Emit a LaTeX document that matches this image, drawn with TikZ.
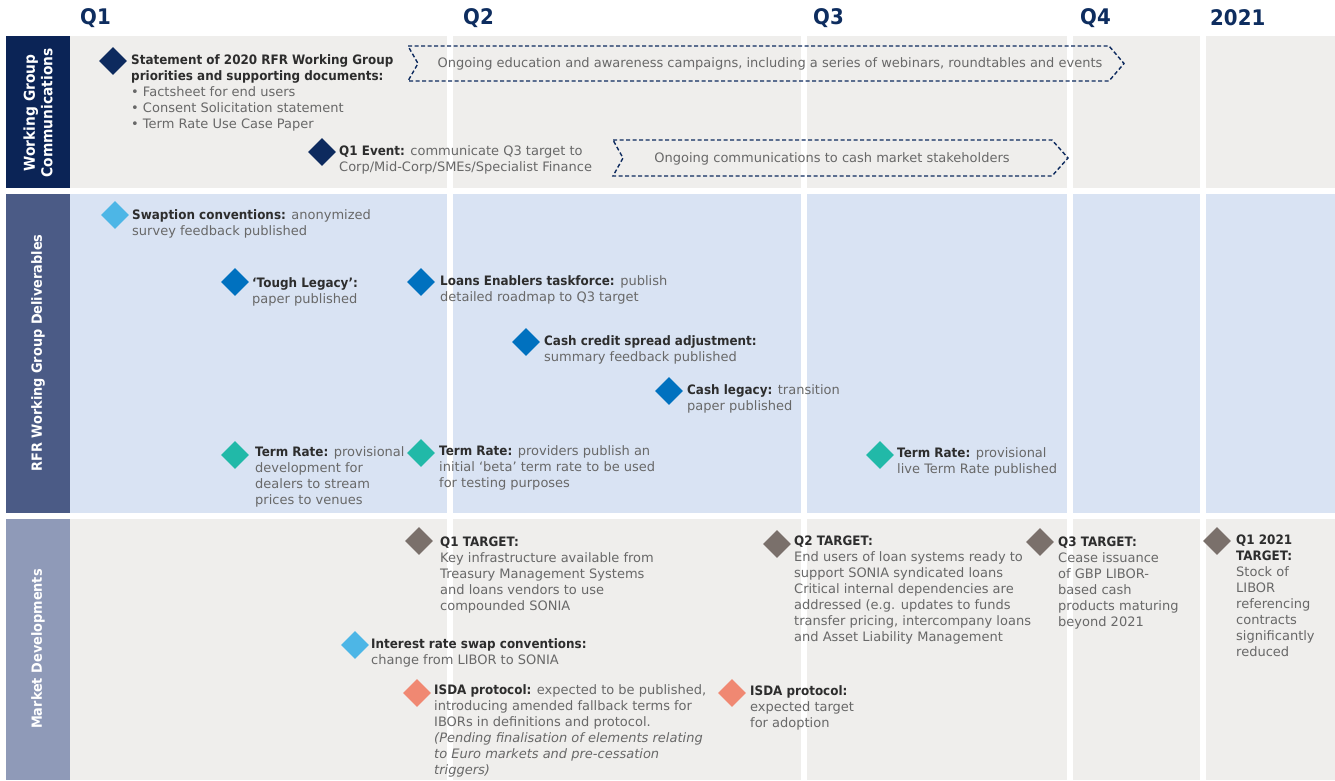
\documentclass[tikz,border=0pt]{standalone}
\usepackage{fontspec}
\setmainfont{DejaVu Sans}[BoldFeatures={FakeStretch=0.92}]
\usetikzlibrary{shapes.geometric}
\definecolor{hdnavy}{HTML}{0E2D5F}
\definecolor{labA}{HTML}{0B2456}
\definecolor{labB}{HTML}{4B5B86}
\definecolor{labC}{HTML}{8F9AB8}
\definecolor{bggrey}{HTML}{EFEEEC}
\definecolor{bgblue}{HTML}{D9E3F3}
\definecolor{dnavy}{HTML}{0D2A5E}
\definecolor{dlight}{HTML}{4DB6E6}
\definecolor{dmid}{HTML}{0071BF}
\definecolor{dteal}{HTML}{21B9A8}
\definecolor{dbrown}{HTML}{7A706B}
\definecolor{dsalmon}{HTML}{F08872}
\definecolor{txtgrey}{HTML}{686868}
\definecolor{txtdark}{HTML}{2D2D2D}
\newcommand{\mybf}[1]{{\color{txtdark}\bfseries #1}}
\begin{document}
\begin{tikzpicture}[x=1pt,y=-1pt,
  txt/.style={anchor=north west, inner sep=0pt, align=left, yshift=5pt,
    font=\fontsize{13}{16}\selectfont, text=txtgrey, execute at begin node=\strut},
  dia/.style={diamond, minimum width=28pt, minimum height=28pt, inner sep=0pt, draw=none},
  qhead/.style={anchor=west, inner sep=0pt, text=hdnavy, font=\fontsize{21.5}{24}\selectfont\bfseries},
  rowlab/.style={rotate=90, inner sep=0pt, text=white, align=center, font=\fontsize{14}{17}\selectfont\bfseries},
  ongoing/.style={draw=dnavy, line width=1.4pt, dash pattern=on 4pt off 2.5pt},
  ongtxt/.style={inner sep=0pt, text=txtgrey, font=\fontsize{13}{16}\selectfont}]
\useasboundingbox (0,0) rectangle (1335,780);
\fill[white] (0,0) rectangle (1335,780);
% label columns
\fill[labA] (6,36) rectangle (70,188);
\fill[labB] (6,194) rectangle (70,513);
\fill[labC] (6,519) rectangle (70,780);
% row backgrounds per column
\foreach \xa/\xb in {70/447,453/801,807/1067,1073/1200,1206/1335}{
  \fill[bggrey] (\xa,36) rectangle (\xb,188);
  \fill[bgblue] (\xa,194) rectangle (\xb,513);
  \fill[bggrey] (\xa,519) rectangle (\xb,780);
}
% headers
\node[qhead] (hq1) at (80,18) {Q1};
\node[qhead] (hq2) at (463,18) {Q2};
\node[qhead] (hq3) at (813,18) {Q3};
\node[qhead] (hq4) at (1080,18) {Q4};
\node[qhead] (h21) at (1210,18) {2021};
% row labels
\node[rowlab, font=\fontsize{15}{17.5}\selectfont\bfseries] (lab1) at (38,113) {Working Group\\Communications};
\node[rowlab] (lab2) at (38,353) {RFR Working Group Deliverables};
\node[rowlab] (lab3) at (38,649) {Market Developments};
% ongoing arrows
\draw[ongoing] (408,46) -- (1109,46) -- (1124,63.5) -- (1109,81) -- (408,81) -- (418,63.5) -- cycle;
\node[ongtxt] (ong1) at (770,64) {Ongoing education and awareness campaigns, including a series of webinars, roundtables and events};
\draw[ongoing] (613,140) -- (1052,140) -- (1068,158) -- (1052,176) -- (613,176) -- (623,158) -- cycle;
\node[ongtxt] (ong2) at (832,158.5) {Ongoing communications to cash market stakeholders};
% row 1
\node[dia, fill=dnavy] (d_stmt) at (113,61) {};
\node[txt] (t_stmt) at (131,59) {\mybf{Statement of 2020 RFR Working Group}\\\mybf{priorities and supporting documents:}\\• Factsheet for end users\\• Consent Solicitation statement\\• Term Rate Use Case Paper};
\node[dia, fill=dnavy] (d_event) at (322,152) {};
\node[txt] (t_event) at (339,150) {\mybf{Q1 Event:} communicate Q3 target to\\Corp/Mid-Corp/SMEs/Specialist Finance};
% row 2
\node[dia, fill=dlight] (d_swap) at (115,215) {};
\node[txt] (t_swap) at (132,214) {\mybf{Swaption conventions:} anonymized\\survey feedback published};
\node[dia, fill=dmid] (d_tough) at (235,282) {};
\node[txt] (t_tough) at (252,282) {\mybf{‘Tough Legacy’:}\\paper published};
\node[dia, fill=dmid] (d_loans) at (421,282) {};
\node[txt] (t_loans) at (440,280) {\mybf{Loans Enablers taskforce:} publish\\detailed roadmap to Q3 target};
\node[dia, fill=dmid] (d_ccsa) at (526,342) {};
\node[txt] (t_ccsa) at (544,340) {\mybf{Cash credit spread adjustment:}\\summary feedback published};
\node[dia, fill=dmid] (d_cleg) at (669,391) {};
\node[txt] (t_cleg) at (687,389) {\mybf{Cash legacy:} transition\\paper published};
\node[dia, fill=dteal] (d_tr1) at (235,455) {};
\node[txt] (t_tr1) at (255,451) {\mybf{Term Rate:} provisional\\development for\\dealers to stream\\prices to venues};
\node[dia, fill=dteal] (d_tr2) at (421,453) {};
\node[txt] (t_tr2) at (439,450) {\mybf{Term Rate:} providers publish an\\initial ‘beta’ term rate to be used\\for testing purposes};
\node[dia, fill=dteal] (d_tr3) at (880,455) {};
\node[txt] (t_tr3) at (897,452) {\mybf{Term Rate:} provisional\\live Term Rate published};
% row 3
\node[dia, fill=dbrown] (d_q1t) at (419,541) {};
\node[txt] (t_q1t) at (440,542) {\mybf{Q1 TARGET:}\\Key infrastructure available from\\Treasury Management Systems\\and loans vendors to use\\compounded SONIA};
\node[dia, fill=dlight] (d_irs) at (355,645) {};
\node[txt] (t_irs) at (371,643) {\mybf{Interest rate swap conventions:}\\change from LIBOR to SONIA};
\node[dia, fill=dsalmon] (d_isda1) at (417,693) {};
\node[txt] (t_isda1) at (434,689) {\mybf{ISDA protocol:} expected to be published,\\introducing amended fallback terms for\\IBORs in definitions and protocol.\\\textit{(Pending finalisation of elements relating}\\\textit{to Euro markets and pre-cessation}\\\textit{triggers)}};
\node[dia, fill=dsalmon] (d_isda2) at (732,693) {};
\node[txt] (t_isda2) at (750,690) {\mybf{ISDA protocol:}\\expected target\\for adoption};
\node[dia, fill=dbrown] (d_q2t) at (777,544) {};
\node[txt] (t_q2t) at (794,541) {\mybf{Q2 TARGET:}\\End users of loan systems ready to\\support SONIA syndicated loans\\Critical internal dependencies are\\addressed (e.g. updates to funds\\transfer pricing, intercompany loans\\and Asset Liability Management};
\node[dia, fill=dbrown] (d_q3t) at (1040,542) {};
\node[txt] (t_q3t) at (1058,542) {\mybf{Q3 TARGET:}\\Cease issuance\\of GBP LIBOR-\\based cash\\products maturing\\beyond 2021};
\node[dia, fill=dbrown] (d_q21) at (1217,541) {};
\node[txt] (t_q21) at (1236,540) {\mybf{Q1 2021}\\\mybf{TARGET:}\\Stock of\\LIBOR\\referencing\\contracts\\significantly\\reduced};
\end{tikzpicture}
\end{document}
